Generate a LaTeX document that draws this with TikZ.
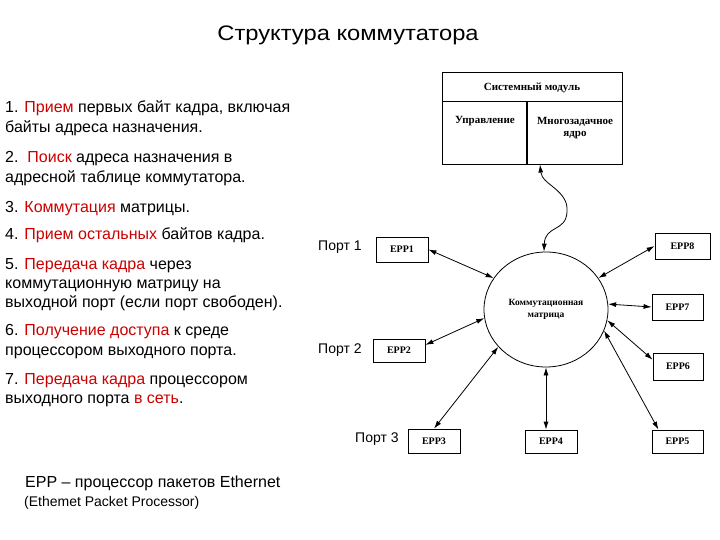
\documentclass[tikz,border=0pt]{standalone}
\usepackage{fontspec}
\setmainfont{Liberation Sans}
\newfontfamily\boxfont{Liberation Serif}
\usetikzlibrary{arrows.meta,shapes.geometric,calc}
\definecolor{hl}{RGB}{204,0,0}
\newcommand{\rd}[1]{\textcolor{hl}{#1}}
\begin{document}
\begin{tikzpicture}[x=1pt,y=-1pt,
  eppbox/.style={draw,line width=0.8pt,inner sep=0pt,font=\boxfont\bfseries\fontsize{10}{11}\selectfont},
  ln/.style={anchor=base west,inner sep=0pt,font=\fontsize{16}{18}\selectfont},
  port/.style={anchor=base west,inner sep=0pt,font=\fontsize{14}{16}\selectfont},
  conn/.style={line width=0.8pt,{Latex[length=8pt,width=5pt]}-{Latex[length=8pt,width=5pt]}},
  btxt/.style={inner sep=0pt,align=center,font=\boxfont\bfseries\fontsize{9.5}{12}\selectfont},
  stxt/.style={inner sep=0pt,align=center,font=\boxfont\bfseries\fontsize{11}{12.5}\selectfont}]
\useasboundingbox (0,0) rectangle (720,540);
% title
\node[anchor=base,inner sep=0pt,font=\fontsize{21}{24}\selectfont] (title) at (348,41) {\scalebox{1.13}[1]{Структура коммутатора}};
% left text
\node[ln] (t1) at (5,113) {1. \rd{Прием} первых байт кадра, включая};
\node[ln] (t2) at (5,133) {байты адреса назначения.};
\node[ln] (t3) at (5,163) {2.\ \ \rd{Поиск} адреса назначения в};
\node[ln] (t4) at (5,183) {адресной таблице коммутатора.};
\node[ln] (t5) at (5,212) {3. \rd{Коммутация} матрицы.};
\node[ln] (t6) at (5,240) {4. \rd{Прием остальных} байтов кадра.};
\node[ln] (t7) at (5,269) {5. \rd{Передача кадра} через};
\node[ln] (t8) at (5,288) {коммутационную матрицу на};
\node[ln] (t9) at (5,307) {выходной порт (если порт свободен).};
\node[ln] (t10) at (5,335) {6. \rd{Получение доступа} к среде};
\node[ln] (t11) at (5,355) {процессором выходного порта.};
\node[ln] (t12) at (5,384) {7. \rd{Передача кадра} процессором};
\node[ln] (t13) at (5,403) {выходного порта \rd{в сеть}.};
\node[ln] (n1) at (25,487) {EPP – процессор пакетов Ethernet};
\node[anchor=base west,inner sep=0pt,font=\fontsize{14}{16}\selectfont] (n2) at (24,506) {(Ethemet Packet Processor)};
% system module
\node[draw,line width=0.8pt,minimum width=180pt,minimum height=92pt,inner sep=0pt] (sys) at (532,118) {};
\draw[line width=0.8pt] (442,101) coordinate (hl) -- (622,101) coordinate (hr);
\draw[line width=1.2pt] (527,101) coordinate (vt) -- (527,164) coordinate (vb);
\node[stxt] (smtitle) at (532,88) {Системный модуль};
\node[stxt] (upr) at (485,121) {Управление};
\node[stxt] (core) at (575,128) {Многозадачное\\ядро};
% matrix
\node[draw,ellipse,line width=0.8pt,minimum width=124pt,minimum height=115pt,inner sep=0pt,btxt] (mat) at (546,309.5) {Коммутационная\\матрица};
% EPP boxes
\node[eppbox,minimum width=52pt,minimum height=25pt] (epp1) at (402,249.5) {EPP1};
\node[eppbox,minimum width=55pt,minimum height=26pt] (epp8) at (682.5,246) {EPP8};
\node[eppbox,minimum width=51pt,minimum height=26pt] (epp7) at (677.5,307) {EPP7};
\node[eppbox,minimum width=52pt,minimum height=23pt] (epp2) at (399,350.5) {EPP2};
\node[eppbox,minimum width=50pt,minimum height=27pt] (epp6) at (678,366.5) {EPP6};
\node[eppbox,minimum width=52pt,minimum height=24pt] (epp3) at (434,441) {EPP3};
\node[eppbox,minimum width=52pt,minimum height=23pt] (epp4) at (551,441.5) {EPP4};
\node[eppbox,minimum width=51pt,minimum height=23pt] (epp5) at (677.5,441.5) {EPP5};
% ports
\node[port] (p1) at (318,250) {Порт 1};
\node[port] (p2) at (318,353) {Порт 2};
\node[port] (p3) at (355,442) {Порт 3};
% connectors
\draw[conn] (epp1.east) -- (mat.149);
\draw[conn] (epp8.west) -- (mat.31);
\draw[conn] (epp7.west) -- (mat.5);
\draw[conn] (epp6.165) -- (mat.-10);
\draw[conn] (epp5.148) -- (mat.-20);
\draw[conn] (mat.south) -- (mat.south |- epp4.north);
\draw[conn] (epp3.north) -- (mat.-142);
\draw[conn] (epp2.12) -- (mat.-172);
% wave
\coordinate (wtop) at (540,164.5);
\draw[conn] (wtop) .. controls (542,185) and (569,190) .. (567,212) .. controls (566,232) and (545,225) .. (mat.92);
\end{tikzpicture}
\end{document}
